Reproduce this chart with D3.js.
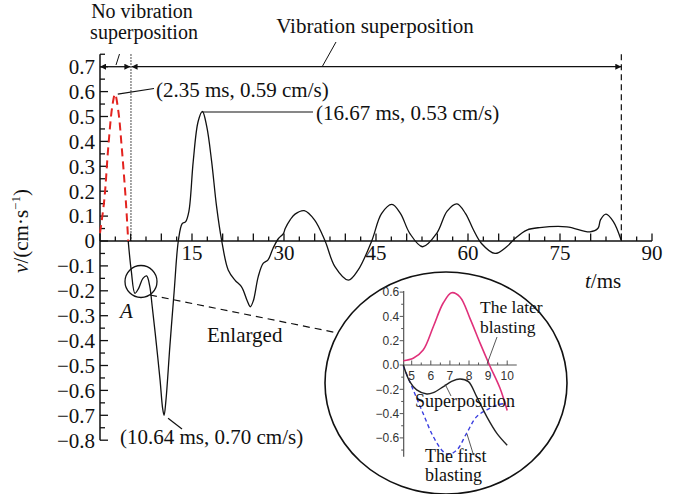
<!DOCTYPE html>
<html>
<head>
<meta charset="utf-8">
<title>Vibration superposition</title>
<script src="https://d3js.org/d3.v7.min.js"></script>
<style>
  body { margin: 0; background: #fff; }
  svg { display: block; }
  text { font-family: "Liberation Serif", "Times New Roman", serif; fill: #111; }
  .inset-tick text { font-family: "Liberation Sans", Arial, sans-serif; font-size: 12px; fill: #333; }
</style>
</head>
<body>
<svg width="675" height="494"></svg>
<script>
// main record: superposed blasting vibration (t in ms, v in cm/s)
var mainT = [4.6, 5.1, 5.7, 6.3, 7.0, 7.6, 8.1, 8.5, 9.0, 9.8, 10.2, 10.45, 10.75, 11.4, 12.1, 12.77,
  13.4, 13.97, 14.5, 15.2, 16.0, 16.7, 17.4, 18.2, 19.0, 19.85, 20.9, 22.0, 23.1, 24.0, 24.5, 25.0,
  25.8, 26.6, 27.4, 28.2, 29.1, 29.9, 30.2, 31.0, 31.8, 33.3, 35.0, 36.7, 38.3, 40.5, 42.1, 44.3,
  45.9, 47.6, 49.0, 50.5, 52.6, 54.9, 56.6, 58.2, 59.6, 60.9, 62.2, 64.4, 66.3, 67.7, 69.6, 71.7,
  76.1, 79.9, 81.2, 81.6, 82.5, 83.7, 84.95];
var mainV = [0.0, -0.12, -0.21, -0.19, -0.15, -0.14, -0.18, -0.26, -0.37, -0.56, -0.67, -0.70, -0.64, -0.42, -0.2, 0.0,
  0.07, 0.078, 0.12, 0.32, 0.48, 0.52, 0.46, 0.32, 0.14, 0.0, -0.116, -0.157, -0.185, -0.24, -0.264, -0.24,
  -0.143, -0.09, -0.076, -0.03, 0.01, 0.03, 0.05, 0.085, 0.108, 0.122, 0.084, 0.0, -0.103, -0.157, -0.116, 0.0,
  0.11, 0.147, 0.11, 0.031, -0.023, 0.031, 0.12, 0.149, 0.11, 0.044, -0.01, -0.05, -0.023, 0.011, 0.044, 0.054,
  0.057, 0.037, 0.051, 0.085, 0.108, 0.078, 0.005];

// first part, no superposition (red dashed)
var firstT = [0, 0.7, 1.36, 2.0, 2.45, 3.0, 3.53, 4.2, 4.6];
var firstV = [0.032, 0.165, 0.38, 0.54, 0.59, 0.52, 0.38, 0.165, 0.0];

// enlarged window A
var insetLaterT = [4.56, 5.08, 5.6, 6.13, 6.65, 7.09, 7.53, 8.05, 8.58, 9.1, 9.62, 10.0];
var insetLaterV = [0.035, 0.055, 0.123, 0.315, 0.51, 0.595, 0.56, 0.384, 0.18, -0.01, -0.19, -0.375];
var insetSupT = [4.56, 4.9, 5.26, 5.79, 6.13, 6.66, 7.09, 7.53, 7.97, 8.4, 8.93, 9.45, 10.0];
var insetSupV = [0.0, -0.137, -0.205, -0.239, -0.228, -0.178, -0.135, -0.115, -0.137, -0.26, -0.425, -0.56, -0.66];
var insetFirstT = [4.56, 5.08, 5.6, 6.13, 6.65, 6.92, 7.36, 7.88, 8.4, 8.93, 9.45, 9.97];
var insetFirstV = [-0.01, -0.205, -0.40, -0.59, -0.713, -0.735, -0.70, -0.56, -0.425, -0.37, -0.33, -0.315];

var xTicks = [15, 30, 45, 60, 75, 90];
var yTicks = [0.7, 0.6, 0.5, 0.4, 0.3, 0.2, 0.1, 0, -0.1, -0.2, -0.3, -0.4, -0.5, -0.6, -0.7, -0.8];
var insetXTicks = [5, 6, 7, 8, 9, 10];
var insetYTicks = [0.6, 0.4, 0.2, 0.0, -0.2, -0.4, -0.6];

var svg = d3.select("svg");

var x = d3.scaleLinear().domain([0, 90]).range([100, 652]);
var y = d3.scaleLinear().domain([-0.8, 0.75]).range([440.2, 54.25]);

function pairs(ts, vs) { return ts.map(function(t, i) { return [t, vs[i]]; }); }
function fmt(v) { return v === 0 ? "0" : d3.format(".1f")(v).replace("-", "\u2212"); }

// markers
var defs = svg.append("defs");
defs.append("marker")
  .attr("id", "arr")
  .attr("viewBox", "0 0 10 10")
  .attr("refX", 10).attr("refY", 5)
  .attr("markerWidth", 12).attr("markerHeight", 6)
  .attr("markerUnits", "userSpaceOnUse")
  .attr("orient", "auto-start-reverse")
  .append("path").attr("d", "M0,0L10,5L0,10z").attr("fill", "#111");

// y axis with minor ticks
var yMinor = d3.range(-16, 16).map(function(i) { return i * 0.05; });
svg.append("line")
  .attr("x1", x(0)).attr("x2", x(0))
  .attr("y1", y(0.75)).attr("y2", y(-0.8))
  .attr("stroke", "#111").attr("stroke-width", 1.5);
svg.selectAll(".ytk").data(yMinor).enter().append("line")
  .attr("x1", x(0))
  .attr("x2", function(d) { return x(0) + (Math.abs(Math.round(d * 20)) % 2 === 0 ? 8 : 5); })
  .attr("y1", function(d) { return y(d); }).attr("y2", function(d) { return y(d); })
  .attr("stroke", "#111").attr("stroke-width", 1.3);
svg.selectAll(".ylb").data(yTicks).enter().append("text")
  .attr("x", 95).attr("y", function(d) { return y(d); })
  .attr("dy", "0.35em").attr("text-anchor", "end")
  .style("font-size", "21px")
  .text(fmt);

// x axis
var xMinor = d3.range(0, 37).map(function(i) { return i * 2.5; });
svg.append("line")
  .attr("x1", x(0)).attr("x2", x(90))
  .attr("y1", y(0)).attr("y2", y(0))
  .attr("stroke", "#111").attr("stroke-width", 1.5);
svg.selectAll(".xtk").data(xMinor).enter().append("line")
  .attr("x1", function(d) { return x(d); }).attr("x2", function(d) { return x(d); })
  .attr("y1", y(0))
  .attr("y2", function(d) { return y(0) - (d % 5 === 0 ? 7.5 : 4.5); })
  .attr("stroke", "#111").attr("stroke-width", 1.3);
svg.selectAll(".xlb").data(xTicks).enter().append("text")
  .attr("x", function(d) { return x(d); }).attr("y", y(0) + 19)
  .attr("text-anchor", "middle")
  .style("font-size", "21px")
  .text(function(d) { return d; });

// axis titles
var yl = svg.append("text")
  .attr("transform", "translate(28,231) rotate(-90)")
  .attr("text-anchor", "middle")
  .style("font-size", "21px");
yl.append("tspan").style("font-style", "italic").text("v");
yl.append("tspan").text("/(cm\u00b7s");
yl.append("tspan").attr("dy", -8).style("font-size", "13px").text("\u22121");
yl.append("tspan").attr("dy", 8).text(")");

var xl = svg.append("text").attr("x", 585).attr("y", 288).style("font-size", "21px");
xl.append("tspan").style("font-style", "italic").text("t");
xl.append("tspan").text("/ms");

// curves
var line = d3.line()
  .x(function(d) { return x(d[0]); })
  .y(function(d) { return y(d[1]); })
  .curve(d3.curveCatmullRom.alpha(0.5));

svg.append("path")
  .attr("d", line(pairs(firstT, firstV)))
  .attr("fill", "none").attr("stroke", "#e3231f")
  .attr("stroke-width", 2).attr("stroke-dasharray", "8,5");

svg.append("path")
  .attr("d", line(pairs(mainT, mainV)))
  .attr("fill", "none").attr("stroke", "#111").attr("stroke-width", 1.3);

// phase separators
svg.append("line")
  .attr("x1", x(5.05)).attr("x2", x(5.05)).attr("y1", y(0.75)).attr("y2", y(0))
  .attr("stroke", "#111").attr("stroke-width", 1).attr("stroke-dasharray", "1.5,1.5");
svg.append("line")
  .attr("x1", x(85)).attr("x2", x(85)).attr("y1", y(0.75)).attr("y2", y(0))
  .attr("stroke", "#111").attr("stroke-width", 1.2).attr("stroke-dasharray", "6,4");

// range arrows
[[0, 4.95], [5.15, 85]].forEach(function(r) {
  svg.append("line")
    .attr("x1", x(r[0])).attr("x2", x(r[1]))
    .attr("y1", y(0.7)).attr("y2", y(0.7))
    .attr("stroke", "#111").attr("stroke-width", 1.3)
    .attr("marker-start", "url(#arr)").attr("marker-end", "url(#arr)");
});

// headings
svg.append("text").attr("x", 142).attr("y", 18).attr("text-anchor", "middle")
  .style("font-size", "20px").text("No vibration");
svg.append("text").attr("x", 144).attr("y", 39).attr("text-anchor", "middle")
  .style("font-size", "20px").text("superposition");
svg.append("line").attr("x1", 116).attr("y1", 65).attr("x2", 119.5).attr("y2", 54)
  .attr("stroke", "#111").attr("stroke-width", 1);
svg.append("text").attr("x", 375).attr("y", 33).attr("text-anchor", "middle")
  .style("font-size", "21px").text("Vibration superposition");
svg.append("line").attr("x1", 322).attr("y1", 67).attr("x2", 336).attr("y2", 42)
  .attr("stroke", "#111").attr("stroke-width", 1);

// peak annotations
function note(x1, y1, x2, y2, tx, ty, s) {
  svg.append("line").attr("x1", x1).attr("y1", y1).attr("x2", x2).attr("y2", y2)
    .attr("stroke", "#111").attr("stroke-width", 1.2);
  svg.append("text").attr("x", tx).attr("y", ty).style("font-size", "21px").text(s);
}
note(x(2.9), y(0.59), 154, 88.5, 156, 97, "(2.35 ms, 0.59 cm/s)");
note(x(16.67), y(0.518), 313, y(0.518), 316, 120, "(16.67 ms, 0.53 cm/s)");
note(x(11.1), y(-0.7) + 3, 182, 429, 120, 444, "(10.64 ms, 0.70 cm/s)");

// window A
svg.append("circle").attr("cx", 141).attr("cy", 281.5).attr("r", 16)
  .attr("fill", "none").attr("stroke", "#111").attr("stroke-width", 1.3);
svg.append("text").attr("x", 120).attr("y", 318).style("font-size", "21px")
  .style("font-style", "italic").text("A");
svg.append("line").attr("x1", 150).attr("y1", 295).attr("x2", 338).attr("y2", 333)
  .attr("stroke", "#111").attr("stroke-width", 1.2).attr("stroke-dasharray", "7,5");
svg.append("text").attr("x", 207).attr("y", 342).style("font-size", "21px").text("Enlarged");

// enlarged view
svg.append("ellipse").attr("cx", 446).attr("cy", 383).attr("rx", 121).attr("ry", 111)
  .attr("fill", "#fff").attr("stroke", "#111").attr("stroke-width", 1.6);

var ix = d3.scaleLinear().domain([5, 10]).range([411.7, 507.2]);
var iy = d3.scaleLinear().domain([0, 0.6]).range([365, 292.1]);

var ig = svg.append("g").attr("class", "inset-tick");
ig.append("line").attr("x1", ix(4.58)).attr("x2", ix(4.58)).attr("y1", iy(0.61)).attr("y2", iy(-0.755))
  .attr("stroke", "#555").attr("stroke-width", 1.2);
ig.selectAll(".iyt").data(d3.range(-7, 7).map(function(i) { return i / 10; })).enter().append("line")
  .attr("x1", function(d) { return ix(4.58) - (Math.abs(Math.round(d * 10)) % 2 === 0 ? 4 : 2.5); })
  .attr("x2", ix(4.58))
  .attr("y1", function(d) { return iy(d); }).attr("y2", function(d) { return iy(d); })
  .attr("stroke", "#555");
ig.selectAll(".iyl").data(insetYTicks).enter().append("text")
  .attr("x", ix(4.58) - 4.5).attr("y", function(d) { return iy(d); })
  .attr("dy", "0.36em").attr("text-anchor", "end")
  .text(function(d) { return d3.format(".1f")(d); });
ig.append("line").attr("x1", ix(4.58)).attr("x2", ix(10.5)).attr("y1", iy(0)).attr("y2", iy(0))
  .attr("stroke", "#555").attr("stroke-width", 1.2);
ig.selectAll(".ixt").data(d3.range(10, 21).map(function(i) { return i / 2; })).enter().append("line")
  .attr("x1", function(d) { return ix(d); }).attr("x2", function(d) { return ix(d); })
  .attr("y1", iy(0))
  .attr("y2", function(d) { return iy(0) - (d % 1 === 0 ? 4.5 : 2.5); })
  .attr("stroke", "#555");
ig.selectAll(".ixl").data(insetXTicks).enter().append("text")
  .attr("x", function(d) { return ix(d); }).attr("y", iy(0) + 14.5)
  .attr("text-anchor", "middle")
  .text(function(d) { return d; });

var iline = d3.line()
  .x(function(d) { return ix(d[0]); })
  .y(function(d) { return iy(d[1]); })
  .curve(d3.curveCatmullRom.alpha(0.5));

svg.append("path").attr("d", iline(pairs(insetFirstT, insetFirstV)))
  .attr("fill", "none").attr("stroke", "#3b3fe0").attr("stroke-width", 1.4)
  .attr("stroke-dasharray", "4,3");
svg.append("path").attr("d", iline(pairs(insetSupT, insetSupV)))
  .attr("fill", "none").attr("stroke", "#222").attr("stroke-width", 1.4);
svg.append("path").attr("d", iline(pairs(insetLaterT, insetLaterV)))
  .attr("fill", "none").attr("stroke", "#e0307a").attr("stroke-width", 1.6);

// inset labels
function inote(x1, y1, x2, y2) {
  svg.append("line").attr("x1", x1).attr("y1", y1).attr("x2", x2).attr("y2", y2)
    .attr("stroke", "#444").attr("stroke-width", 0.9);
}
inote(ix(8.95), iy(0.01), 497, 337);
inote(445, 384, 451, 396);
inote(467, 434, 473.5, 455);
function itext(tx, ty, s, fs) {
  svg.append("text").attr("x", tx).attr("y", ty).style("font-size", (fs || 18) + "px").text(s);
}
itext(480, 313, "The later", 17.5);
itext(480, 333, "blasting", 17.5);
itext(415, 407, "Superposition");
itext(425, 462, "The first");
itext(425, 481, "blasting");
</script>
</body>
</html>
